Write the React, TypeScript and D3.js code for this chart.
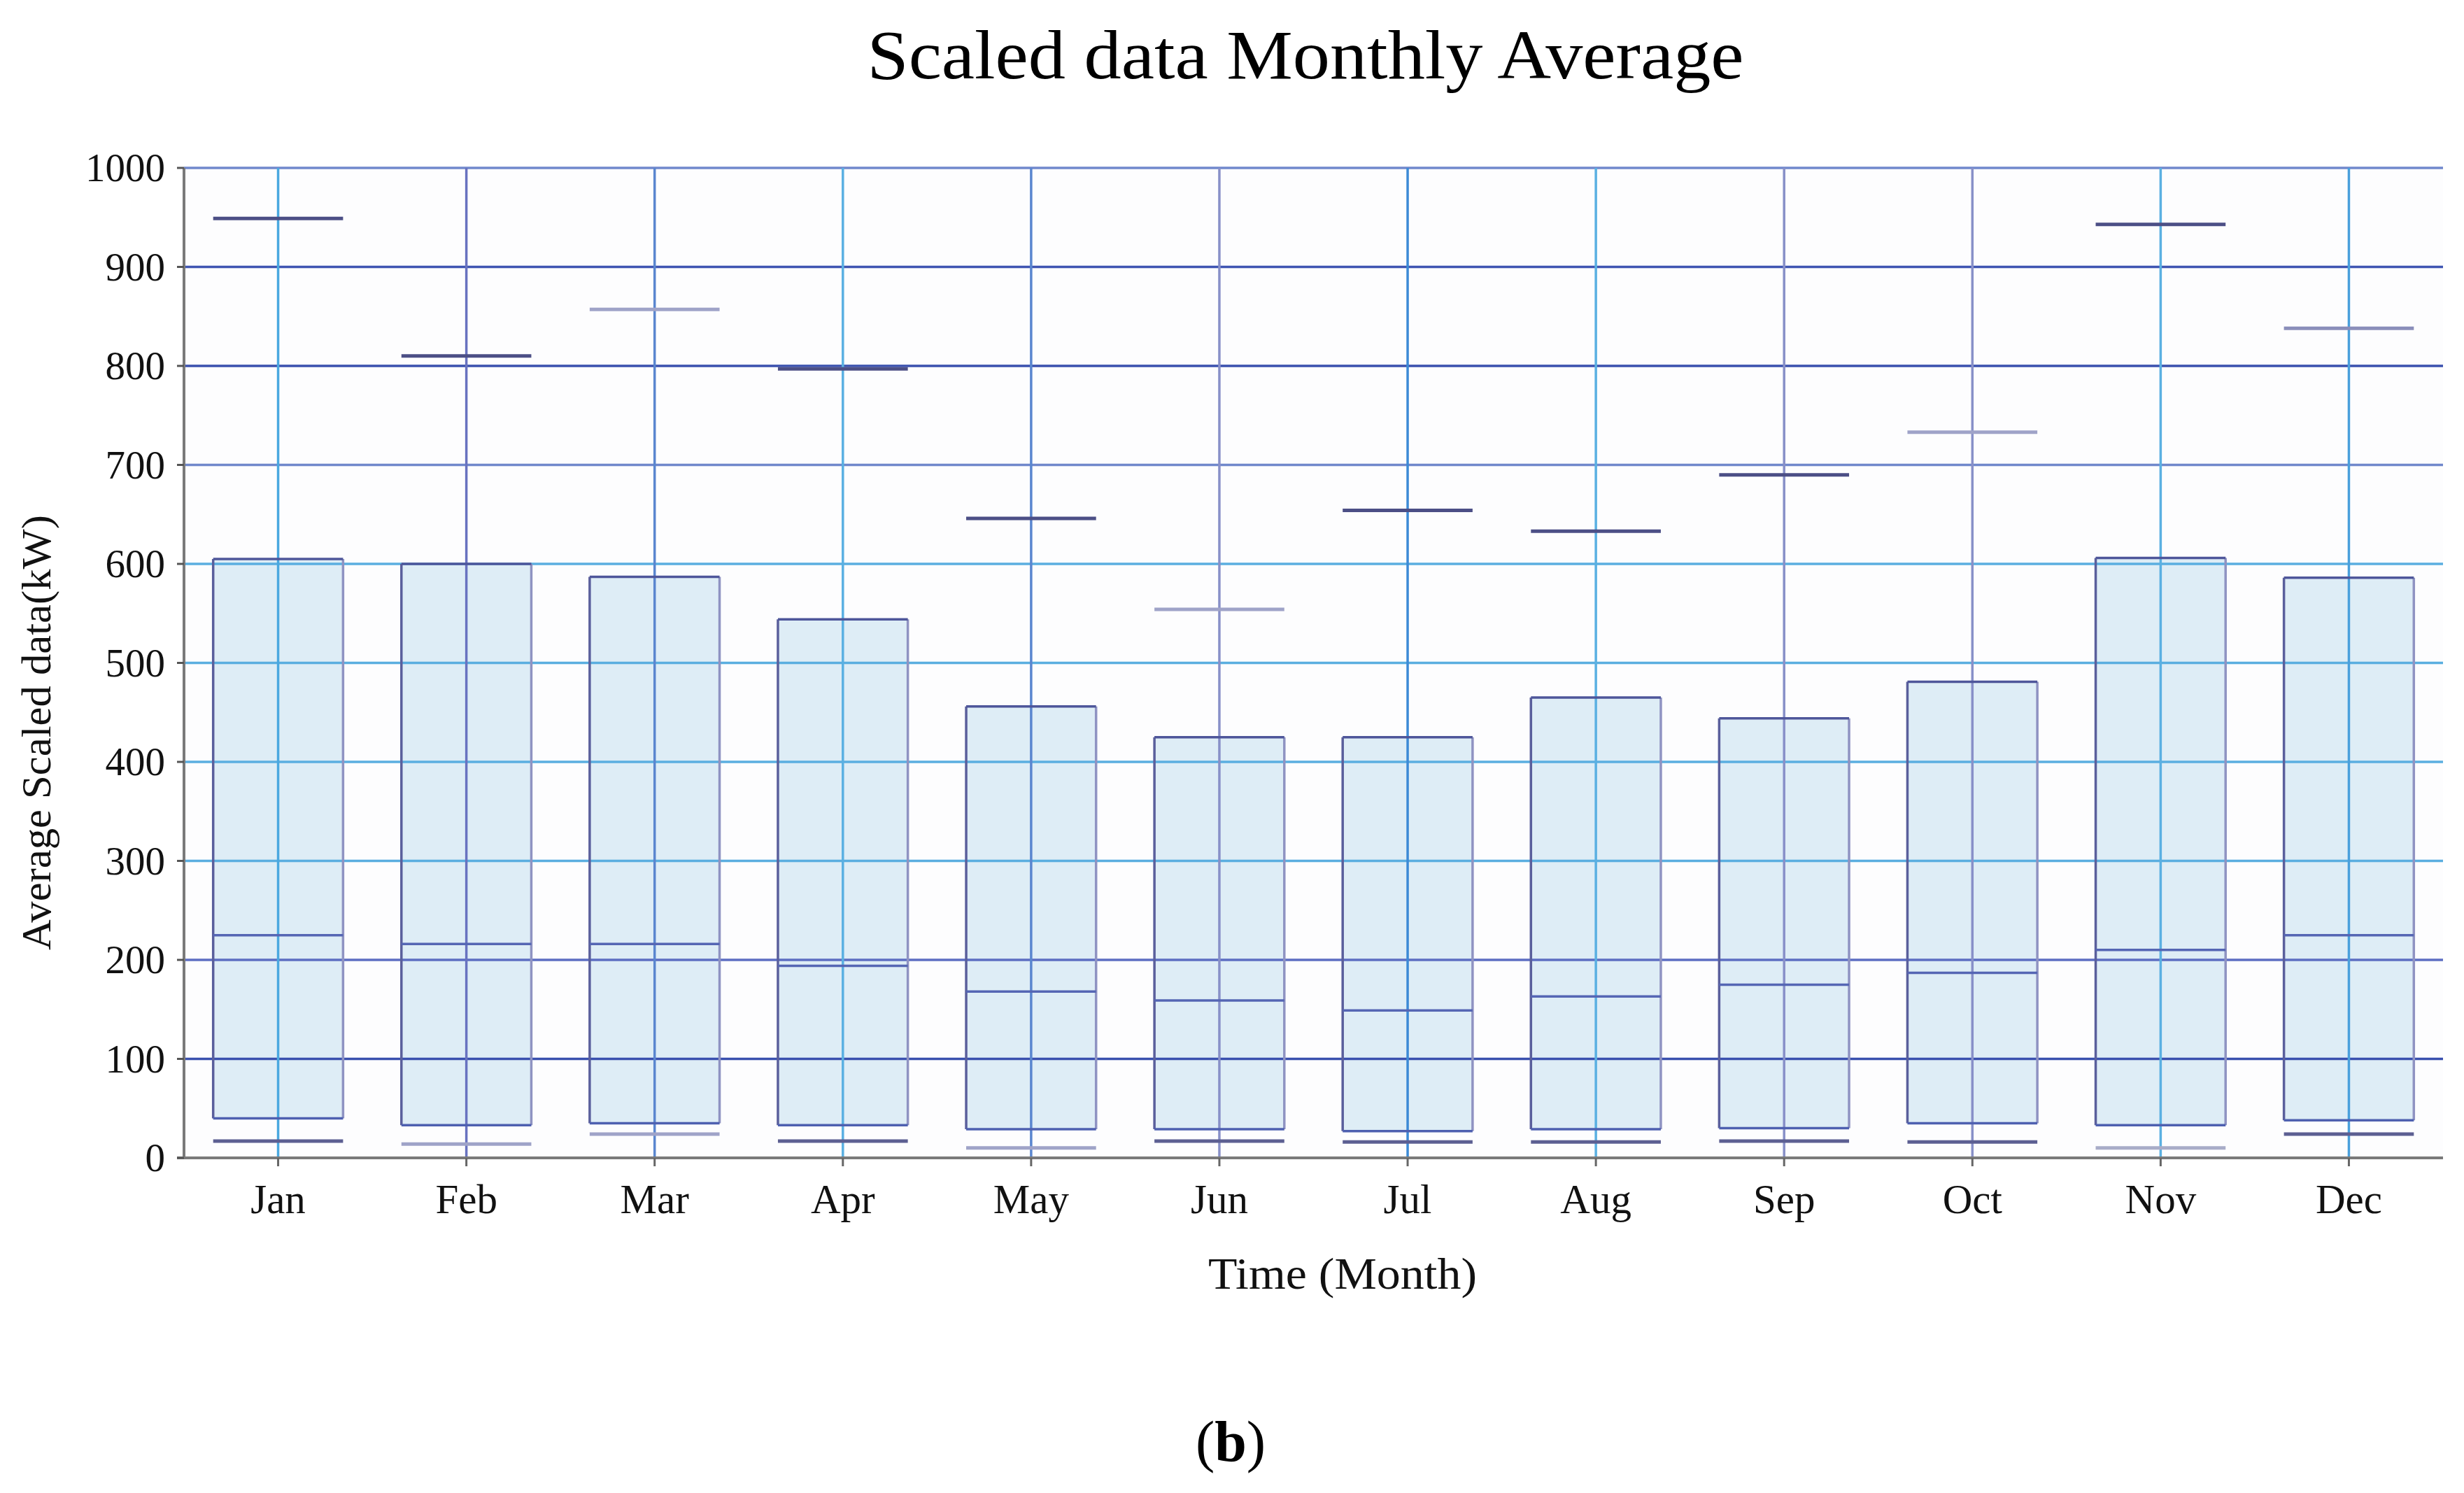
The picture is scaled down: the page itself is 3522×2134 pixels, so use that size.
import * as d3 from 'd3';

// monthly box statistics (kW)
const months = ['Jan', 'Feb', 'Mar', 'Apr', 'May', 'Jun', 'Jul', 'Aug', 'Sep', 'Oct', 'Nov', 'Dec'];
const maxValues = [949, 810, 857, 797, 646, 554, 654, 633, 690, 733, 943, 838];
const q3Values = [605, 600, 587, 544, 456, 425, 425, 465, 444, 481, 606, 586];
const medianValues = [225, 216, 216, 194, 168, 159, 149, 163, 175, 187, 210, 225];
const q1Values = [40, 33, 35, 33, 29, 29, 27, 29, 30, 35, 33, 38];
const minValues = [17, 14, 24, 17, 10, 17, 16, 16, 17, 16, 10, 24];
const yTicks = [0, 100, 200, 300, 400, 500, 600, 700, 800, 900, 1000];

// line colours of the original grid
const hGridColors = ['#7a7a7a', '#3a50ae', '#5d6ec2', '#5aaee0', '#5aaee0', '#5aaee0', '#5aaee0', '#7088cc', '#3a50ae', '#3f55b2', '#7088cc'];
const vGridColors = ['#4aa8e0', '#6872c0', '#5a86cf', '#5ab0e2', '#5a86cf', '#8890c8', '#3c8ad6', '#5ab0e2', '#8890c8', '#8890c8', '#5ab0e2', '#4aa0dc'];
const topCapColors = ['#4c4f86', '#4c4f86', '#9fa3c8', '#4c4f86', '#4c4f86', '#9fa3c8', '#4c4f86', '#4c4f86', '#4c4f86', '#9fa3c8', '#4c4f86', '#8a8eba'];
const lowCapColors = ['#5c5f92', '#9fa3c8', '#9fa3c8', '#5c5f92', '#9fa3c8', '#5c5f92', '#5c5f92', '#5c5f92', '#5c5f92', '#5c5f92', '#a8acc8', '#5c5f92'];

const W = 3522;
const H = 2134;
const FONT = '"Liberation Serif", "Times New Roman", serif';

const App = () => {
  const left = 263;
  const right = 3492;
  const top = 240;
  const bottom = 1655;

  const x = d3.scaleBand<string>().domain(months).range([left, right]).padding(0);
  const y = d3.scaleLinear().domain([0, 1000]).range([bottom, top]);
  const boxW = x.bandwidth() * 0.69;
  const cx = (m: string) => (x(m) as number) + x.bandwidth() / 2;

  return (
    <div style={{ position: 'absolute', left: 0, top: 0 }}>
      <svg width={W} height={H} style={{ display: 'block', background: '#fff' }}>
        <rect x={left} y={top} width={right - left} height={bottom - top} fill="#fdfdfe" />

        {/* box fills */}
        {months.map((m, i) => (
          <rect key={'f' + m} x={cx(m) - boxW / 2} y={y(q3Values[i])} width={boxW}
            height={y(q1Values[i]) - y(q3Values[i])} fill="#deedf6" />
        ))}

        {/* horizontal grid */}
        {yTicks.slice(1).map((t, i) => (
          <line key={'h' + t} x1={left} x2={right} y1={y(t)} y2={y(t)}
            stroke={hGridColors[i + 1]} strokeWidth={3.5} />
        ))}

        {/* vertical grid / whiskers */}
        {months.map((m, i) => (
          <line key={'v' + m} x1={cx(m)} x2={cx(m)} y1={y(0)} y2={y(1000)}
            stroke={vGridColors[i]} strokeWidth={3.5} />
        ))}

        {/* box outlines */}
        {months.map((m, i) => {
          const x0 = cx(m) - boxW / 2;
          const x1 = cx(m) + boxW / 2;
          const yt = y(q3Values[i]);
          const yb = y(q1Values[i]);
          return (
            <g key={'b' + m} strokeWidth={3.5} fill="none">
              <line x1={x0} x2={x0} y1={yt} y2={yb} stroke="#5a5f9c" />
              <line x1={x1} x2={x1} y1={yt} y2={yb} stroke="#8f93c2" />
              <line x1={x0} x2={x1} y1={yt} y2={yt} stroke="#4e569a" />
              <line x1={x0} x2={x1} y1={yb} y2={yb} stroke="#4e60b0" />
              <line x1={x0} x2={x1} y1={y(medianValues[i])} y2={y(medianValues[i])} stroke="#5566b4" />
              <line x1={x0} x2={x1} y1={y(maxValues[i])} y2={y(maxValues[i])} stroke={topCapColors[i]} strokeWidth={5} />
              <line x1={x0} x2={x1} y1={y(minValues[i])} y2={y(minValues[i])} stroke={lowCapColors[i]} strokeWidth={5} />
            </g>
          );
        })}

        {/* axes */}
        <line x1={left} x2={left} y1={top} y2={bottom} stroke="#7a7a7a" strokeWidth={4} />
        <line x1={left - 10} x2={right} y1={bottom} y2={bottom} stroke="#7a7a7a" strokeWidth={4} />
        {yTicks.map(t => (
          <g key={'yt' + t}>
            <line x1={left - 10} x2={left} y1={y(t)} y2={y(t)} stroke="#555" strokeWidth={3} />
            <text x={236} y={y(t)} dy="0.34em" textAnchor="end" fontFamily={FONT} fontSize={57} fill="#111">{t}</text>
          </g>
        ))}
        {months.map(m => (
          <g key={'xt' + m}>
            <line x1={cx(m)} x2={cx(m)} y1={bottom} y2={bottom + 12} stroke="#666" strokeWidth={3} />
            <text x={cx(m)} y={1734} textAnchor="middle" fontFamily={FONT} fontSize={59} fill="#111">{m}</text>
          </g>
        ))}

        {/* titles */}
        <text x={1866} y={112} textAnchor="middle" fontFamily={FONT} fontSize={100} fill="#000"
          textLength={1253} lengthAdjust="spacingAndGlyphs">Scaled data Monthly Average</text>
        <text transform={`translate(72,1047) rotate(-90)`} textAnchor="middle" fontFamily={FONT} fontSize={60}
          fill="#111" textLength={622} lengthAdjust="spacingAndGlyphs">Average Scaled data(kW)</text>
        <text x={1919} y={1842} textAnchor="middle" fontFamily={FONT} fontSize={64} fill="#111"
          textLength={384} lengthAdjust="spacingAndGlyphs">Time (Month)</text>
        <text x={1759} y={2088} textAnchor="middle" fontFamily={FONT} fontSize={82} fill="#000">
          (<tspan fontWeight="bold">b</tspan>)
        </text>
      </svg>
    </div>
  );
};

export default App;
